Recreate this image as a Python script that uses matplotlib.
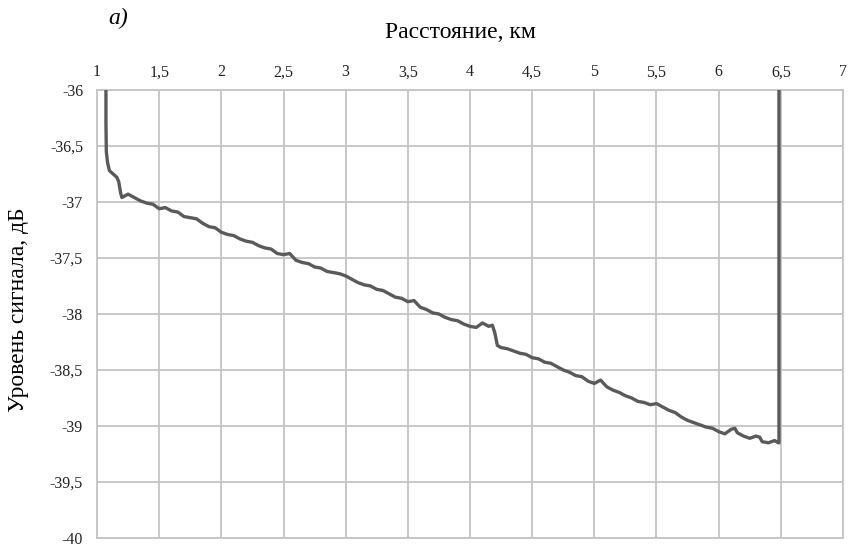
import matplotlib
matplotlib.use("Agg")
import matplotlib.pyplot as plt
from matplotlib.ticker import FuncFormatter

# Reflectogram trace: distance (km) and signal level (dB)
distance_km = [
    1.072, 1.072, 1.075, 1.085, 1.10, 1.12, 1.14, 1.16, 1.175, 1.19,
    1.20, 1.25, 1.30, 1.35, 1.40, 1.45, 1.50, 1.55, 1.60, 1.65,
    1.70, 1.75, 1.80, 1.85, 1.90, 1.95, 2.00, 2.05, 2.10, 2.15,
    2.20, 2.25, 2.30, 2.35, 2.40, 2.45, 2.50, 2.55, 2.60, 2.65,
    2.70, 2.75, 2.80, 2.85, 2.90, 2.95, 3.00, 3.05, 3.10, 3.15,
    3.20, 3.25, 3.30, 3.35, 3.40, 3.45, 3.50, 3.55, 3.60, 3.65,
    3.70, 3.75, 3.80, 3.85, 3.90, 3.95, 4.00, 4.05, 4.10, 4.15,
    4.18, 4.20, 4.22, 4.25, 4.30, 4.35, 4.40, 4.45, 4.50, 4.55,
    4.60, 4.65, 4.70, 4.75, 4.80, 4.85, 4.90, 4.95, 5.00, 5.05,
    5.10, 5.15, 5.20, 5.25, 5.30, 5.35, 5.40, 5.45, 5.50, 5.55,
    5.60, 5.65, 5.70, 5.75, 5.80, 5.85, 5.90, 5.95, 6.00, 6.05,
    6.10, 6.13, 6.15, 6.20, 6.25, 6.30, 6.33, 6.35, 6.40, 6.45,
    6.48, 6.485, 6.485,
]
level_db = [
    -35.80, -36.30, -36.55, -36.65, -36.72, -36.74, -36.76, -36.78, -36.82, -36.92,
    -36.96, -36.93, -36.96, -36.99, -37.01, -37.02, -37.06, -37.05, -37.08, -37.09,
    -37.13, -37.14, -37.15, -37.19, -37.22, -37.23, -37.27, -37.29, -37.30, -37.33,
    -37.35, -37.36, -37.39, -37.41, -37.42, -37.46, -37.47, -37.46, -37.52, -37.54,
    -37.55, -37.58, -37.59, -37.62, -37.63, -37.64, -37.66, -37.69, -37.72, -37.74,
    -37.75, -37.78, -37.79, -37.82, -37.85, -37.86, -37.89, -37.88, -37.94, -37.96,
    -37.99, -38.00, -38.03, -38.05, -38.06, -38.09, -38.11, -38.12, -38.08, -38.11,
    -38.10, -38.17, -38.28, -38.30, -38.31, -38.33, -38.35, -38.36, -38.39, -38.40,
    -38.43, -38.44, -38.47, -38.50, -38.52, -38.55, -38.56, -38.60, -38.62, -38.59,
    -38.65, -38.68, -38.70, -38.73, -38.75, -38.78, -38.79, -38.81, -38.80, -38.83,
    -38.86, -38.88, -38.92, -38.95, -38.97, -38.99, -39.01, -39.02, -39.05, -39.07,
    -39.03, -39.02, -39.06, -39.09, -39.11, -39.09, -39.10, -39.14, -39.15, -39.13,
    -39.15, -39.15, -35.80,
]

x_ticks = [1, 1.5, 2, 2.5, 3, 3.5, 4, 4.5, 5, 5.5, 6, 6.5, 7]
y_ticks = [-36, -36.5, -37, -37.5, -38, -38.5, -39, -39.5, -40]

plt.rcParams["font.family"] = ["Liberation Serif", "DejaVu Serif"]

fig = plt.figure(figsize=(8.49, 5.48), dpi=100)
ax = fig.add_axes([97 / 849, 1 - 538 / 548, (843 - 97) / 849, (538 - 90) / 548])

grid_color = "#c4c4c4"
ax.plot(distance_km, level_db, color="#5a5a5a", lw=2.4, solid_joinstyle="round", zorder=3)

ax.set_xlim(1, 7)
ax.set_ylim(-40, -36)
ax.set_xticks(x_ticks)
ax.set_yticks(y_ticks)

comma = FuncFormatter(lambda v, _: ("%g" % v).replace(".", ","))
ax.xaxis.set_major_formatter(comma)
ax.yaxis.set_major_formatter(comma)

ax.xaxis.tick_top()
ax.tick_params(axis="both", length=0, labelsize=11.5, colors="#222222")
ax.tick_params(axis="x", pad=7)
ax.tick_params(axis="y", pad=10)

ax.grid(True, color=grid_color, lw=1.3)
ax.set_axisbelow(True)
for s in ax.spines.values():
    s.set_color(grid_color)
    s.set_linewidth(1.3)

fig.text(460 / 849, 1 - 32 / 548, "Расстояние, км", ha="center", va="center", fontsize=17)
fig.text(118 / 849, 1 - 18 / 548, "a)", ha="center", va="center", fontsize=17, style="italic")
fig.text(19 / 849, 1 - 310 / 548, "Уровень сигнала, дБ", ha="center", va="center",
         rotation=90, fontsize=17)

fig.savefig("out.png", dpi=100, facecolor="white")
